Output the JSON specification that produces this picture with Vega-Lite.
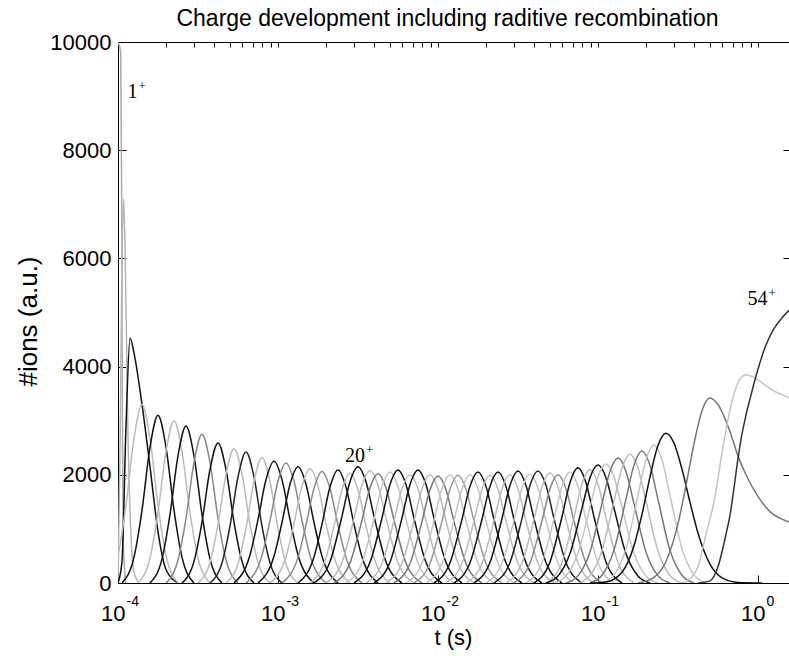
{
"$schema": "https://vega.github.io/schema/vega-lite/v6.json",
"width": 671, "height": 541,
"autosize": {"type": "none"},
"padding": {"left": 118, "top": 42, "right": 0, "bottom": 80},
"background": "white",
"config": {"view": {"stroke": null}, "font": "Liberation Sans"},
"title": {"text": "Charge development including raditive recombination", "font": "Liberation Sans", "fontSize": 23, "fontWeight": "normal", "color": "black", "frame": "group", "anchor": "middle", "baseline": "alphabetic", "offset": -18, "dx": -6},
"datasets": {
"labels": [{"lab":"1","t":1.324e-4,"n":8965},{"lab":"20","t":3.499e-3,"n":2237},{"lab":"54","t":1.147,"n":5139}],
"curves": [
{"q":1,"t":1.0e-4,"n":10000},{"q":1,"t":1.04e-4,"n":9800},{"q":1,"t":1.055e-4,"n":7000},{"q":1,"t":1.065e-4,"n":3000},{"q":1,"t":1.08e-4,"n":700},{"q":1,"t":1.12e-4,"n":0},
{"q":2,"t":1.0e-4,"n":0},{"q":2,"t":1.03e-4,"n":2500},{"q":2,"t":1.06e-4,"n":6000},{"q":2,"t":1.085e-4,"n":7100},{"q":2,"t":1.11e-4,"n":6000},{"q":2,"t":1.15e-4,"n":3000},{"q":2,"t":1.2e-4,"n":1000},{"q":2,"t":1.26e-4,"n":200},{"q":2,"t":1.35e-4,"n":0},
{"q":3,"t":1.0e-4,"n":0},{"q":3,"t":1.059e-4,"n":400},{"q":3,"t":1.122e-4,"n":2900},{"q":3,"t":1.189e-4,"n":4530},{"q":3,"t":1.259e-4,"n":4250},{"q":3,"t":1.413e-4,"n":3300},{"q":3,"t":1.585e-4,"n":2150},{"q":3,"t":1.778e-4,"n":950},{"q":3,"t":1.995e-4,"n":250},{"q":3,"t":2.371e-4,"n":0},
{"q":4,"t":8.414e-5,"n":0},{"q":4,"t":1.0e-4,"n":508},{"q":4,"t":1.122e-4,"n":1436},{"q":4,"t":1.259e-4,"n":2673},{"q":4,"t":1.413e-4,"n":3300},{"q":4,"t":1.585e-4,"n":2673},{"q":4,"t":1.778e-4,"n":1436},{"q":4,"t":1.995e-4,"n":508},{"q":4,"t":2.371e-4,"n":0},
{"q":5,"t":1.059e-4,"n":0},{"q":5,"t":1.259e-4,"n":477},{"q":5,"t":1.413e-4,"n":1349},{"q":5,"t":1.585e-4,"n":2511},{"q":5,"t":1.778e-4,"n":3100},{"q":5,"t":1.995e-4,"n":2511},{"q":5,"t":2.239e-4,"n":1349},{"q":5,"t":2.512e-4,"n":477},{"q":5,"t":2.985e-4,"n":0},
{"q":6,"t":1.334e-4,"n":0},{"q":6,"t":1.585e-4,"n":462},{"q":6,"t":1.778e-4,"n":1305},{"q":6,"t":1.995e-4,"n":2430},{"q":6,"t":2.239e-4,"n":3000},{"q":6,"t":2.512e-4,"n":2430},{"q":6,"t":2.818e-4,"n":1305},{"q":6,"t":3.162e-4,"n":462},{"q":6,"t":3.758e-4,"n":0},
{"q":7,"t":1.585e-4,"n":0},{"q":7,"t":1.884e-4,"n":447},{"q":7,"t":2.113e-4,"n":1262},{"q":7,"t":2.371e-4,"n":2349},{"q":7,"t":2.661e-4,"n":2900},{"q":7,"t":2.985e-4,"n":2349},{"q":7,"t":3.350e-4,"n":1262},{"q":7,"t":3.758e-4,"n":447},{"q":7,"t":4.467e-4,"n":0},
{"q":8,"t":1.995e-4,"n":0},{"q":8,"t":2.371e-4,"n":424},{"q":8,"t":2.661e-4,"n":1196},{"q":8,"t":2.985e-4,"n":2228},{"q":8,"t":3.350e-4,"n":2750},{"q":8,"t":3.758e-4,"n":2228},{"q":8,"t":4.217e-4,"n":1196},{"q":8,"t":4.732e-4,"n":424},{"q":8,"t":5.623e-4,"n":0},
{"q":9,"t":2.512e-4,"n":0},{"q":9,"t":2.985e-4,"n":399},{"q":9,"t":3.350e-4,"n":1127},{"q":9,"t":3.758e-4,"n":2098},{"q":9,"t":4.217e-4,"n":2590},{"q":9,"t":4.732e-4,"n":2098},{"q":9,"t":5.309e-4,"n":1127},{"q":9,"t":5.957e-4,"n":399},{"q":9,"t":7.079e-4,"n":0},
{"q":10,"t":3.162e-4,"n":0},{"q":10,"t":3.758e-4,"n":382},{"q":10,"t":4.217e-4,"n":1079},{"q":10,"t":4.732e-4,"n":2009},{"q":10,"t":5.309e-4,"n":2480},{"q":10,"t":5.957e-4,"n":2009},{"q":10,"t":6.683e-4,"n":1079},{"q":10,"t":7.499e-4,"n":382},{"q":10,"t":8.913e-4,"n":0},
{"q":11,"t":3.758e-4,"n":0},{"q":11,"t":4.467e-4,"n":373},{"q":11,"t":5.012e-4,"n":1053},{"q":11,"t":5.623e-4,"n":1960},{"q":11,"t":6.310e-4,"n":2420},{"q":11,"t":7.079e-4,"n":1960},{"q":11,"t":7.943e-4,"n":1053},{"q":11,"t":8.913e-4,"n":373},{"q":11,"t":1.059e-3,"n":0},
{"q":12,"t":4.732e-4,"n":0},{"q":12,"t":5.623e-4,"n":357},{"q":12,"t":6.310e-4,"n":1009},{"q":12,"t":7.079e-4,"n":1879},{"q":12,"t":7.943e-4,"n":2320},{"q":12,"t":8.913e-4,"n":1879},{"q":12,"t":1.0e-3,"n":1009},{"q":12,"t":1.122e-3,"n":357},{"q":12,"t":1.334e-3,"n":0},
{"q":13,"t":5.309e-4,"n":0},{"q":13,"t":6.683e-4,"n":518},{"q":13,"t":7.499e-4,"n":1170},{"q":13,"t":8.414e-4,"n":1910},{"q":13,"t":9.441e-4,"n":2250},{"q":13,"t":1.059e-3,"n":1910},{"q":13,"t":1.189e-3,"n":1170},{"q":13,"t":1.334e-3,"n":518},{"q":13,"t":1.679e-3,"n":0},
{"q":14,"t":6.310e-4,"n":0},{"q":14,"t":7.943e-4,"n":511},{"q":14,"t":8.913e-4,"n":1154},{"q":14,"t":1.0e-3,"n":1885},{"q":14,"t":1.122e-3,"n":2220},{"q":14,"t":1.259e-3,"n":1885},{"q":14,"t":1.413e-3,"n":1154},{"q":14,"t":1.585e-3,"n":511},{"q":14,"t":1.995e-3,"n":0},
{"q":15,"t":7.499e-4,"n":0},{"q":15,"t":9.441e-4,"n":495},{"q":15,"t":1.059e-3,"n":1118},{"q":15,"t":1.189e-3,"n":1825},{"q":15,"t":1.334e-3,"n":2150},{"q":15,"t":1.496e-3,"n":1825},{"q":15,"t":1.679e-3,"n":1118},{"q":15,"t":1.884e-3,"n":495},{"q":15,"t":2.371e-3,"n":0},
{"q":16,"t":8.913e-4,"n":0},{"q":16,"t":1.122e-3,"n":485},{"q":16,"t":1.259e-3,"n":1097},{"q":16,"t":1.413e-3,"n":1791},{"q":16,"t":1.585e-3,"n":2110},{"q":16,"t":1.778e-3,"n":1791},{"q":16,"t":1.995e-3,"n":1097},{"q":16,"t":2.239e-3,"n":485},{"q":16,"t":2.818e-3,"n":0},
{"q":17,"t":1.059e-3,"n":0},{"q":17,"t":1.334e-3,"n":474},{"q":17,"t":1.496e-3,"n":1071},{"q":17,"t":1.679e-3,"n":1749},{"q":17,"t":1.884e-3,"n":2060},{"q":17,"t":2.113e-3,"n":1749},{"q":17,"t":2.371e-3,"n":1071},{"q":17,"t":2.661e-3,"n":474},{"q":17,"t":3.350e-3,"n":0},
{"q":18,"t":1.334e-3,"n":0},{"q":18,"t":1.679e-3,"n":481},{"q":18,"t":1.884e-3,"n":1087},{"q":18,"t":2.113e-3,"n":1774},{"q":18,"t":2.371e-3,"n":2090},{"q":18,"t":2.661e-3,"n":1774},{"q":18,"t":2.985e-3,"n":1087},{"q":18,"t":3.350e-3,"n":481},{"q":18,"t":4.217e-3,"n":0},
{"q":19,"t":1.585e-3,"n":0},{"q":19,"t":1.995e-3,"n":467},{"q":19,"t":2.239e-3,"n":1056},{"q":19,"t":2.512e-3,"n":1723},{"q":19,"t":2.818e-3,"n":2030},{"q":19,"t":3.162e-3,"n":1723},{"q":19,"t":3.548e-3,"n":1056},{"q":19,"t":3.981e-3,"n":467},{"q":19,"t":5.012e-3,"n":0},
{"q":20,"t":1.679e-3,"n":0},{"q":20,"t":2.113e-3,"n":393},{"q":20,"t":2.512e-3,"n":1236},{"q":20,"t":2.818e-3,"n":1873},{"q":20,"t":3.162e-3,"n":2150},{"q":20,"t":3.548e-3,"n":1873},{"q":20,"t":3.981e-3,"n":1236},{"q":20,"t":4.732e-3,"n":393},{"q":20,"t":5.957e-3,"n":0},
{"q":21,"t":1.995e-3,"n":0},{"q":21,"t":2.512e-3,"n":381},{"q":21,"t":2.985e-3,"n":1196},{"q":21,"t":3.350e-3,"n":1812},{"q":21,"t":3.758e-3,"n":2080},{"q":21,"t":4.217e-3,"n":1812},{"q":21,"t":4.732e-3,"n":1196},{"q":21,"t":5.623e-3,"n":381},{"q":21,"t":7.079e-3,"n":0},
{"q":22,"t":2.239e-3,"n":0},{"q":22,"t":2.818e-3,"n":370},{"q":22,"t":3.350e-3,"n":1162},{"q":22,"t":3.758e-3,"n":1759},{"q":22,"t":4.217e-3,"n":2020},{"q":22,"t":4.732e-3,"n":1759},{"q":22,"t":5.309e-3,"n":1162},{"q":22,"t":6.310e-3,"n":370},{"q":22,"t":7.943e-3,"n":0},
{"q":23,"t":2.661e-3,"n":0},{"q":23,"t":3.350e-3,"n":375},{"q":23,"t":3.981e-3,"n":1179},{"q":23,"t":4.467e-3,"n":1786},{"q":23,"t":5.012e-3,"n":2050},{"q":23,"t":5.623e-3,"n":1786},{"q":23,"t":6.310e-3,"n":1179},{"q":23,"t":7.499e-3,"n":375},{"q":23,"t":9.441e-3,"n":0},
{"q":24,"t":2.985e-3,"n":0},{"q":24,"t":3.758e-3,"n":382},{"q":24,"t":4.467e-3,"n":1202},{"q":24,"t":5.012e-3,"n":1820},{"q":24,"t":5.623e-3,"n":2090},{"q":24,"t":6.310e-3,"n":1820},{"q":24,"t":7.079e-3,"n":1202},{"q":24,"t":8.414e-3,"n":382},{"q":24,"t":1.059e-2,"n":0},
{"q":25,"t":3.548e-3,"n":0},{"q":25,"t":4.467e-3,"n":366},{"q":25,"t":5.309e-3,"n":1150},{"q":25,"t":5.957e-3,"n":1742},{"q":25,"t":6.683e-3,"n":2000},{"q":25,"t":7.499e-3,"n":1742},{"q":25,"t":8.414e-3,"n":1150},{"q":25,"t":1.0e-2,"n":366},{"q":25,"t":1.259e-2,"n":0},
{"q":26,"t":3.981e-3,"n":0},{"q":26,"t":5.012e-3,"n":382},{"q":26,"t":5.957e-3,"n":1202},{"q":26,"t":6.683e-3,"n":1820},{"q":26,"t":7.499e-3,"n":2090},{"q":26,"t":8.414e-3,"n":1820},{"q":26,"t":9.441e-3,"n":1202},{"q":26,"t":1.122e-2,"n":382},{"q":26,"t":1.413e-2,"n":0},
{"q":27,"t":4.732e-3,"n":0},{"q":27,"t":5.957e-3,"n":366},{"q":27,"t":7.079e-3,"n":1150},{"q":27,"t":7.943e-3,"n":1742},{"q":27,"t":8.913e-3,"n":2000},{"q":27,"t":1.0e-2,"n":1742},{"q":27,"t":1.122e-2,"n":1150},{"q":27,"t":1.334e-2,"n":366},{"q":27,"t":1.679e-2,"n":0},
{"q":28,"t":5.309e-3,"n":0},{"q":28,"t":6.683e-3,"n":362},{"q":28,"t":7.943e-3,"n":1139},{"q":28,"t":8.913e-3,"n":1725},{"q":28,"t":1.0e-2,"n":1980},{"q":28,"t":1.122e-2,"n":1725},{"q":28,"t":1.259e-2,"n":1139},{"q":28,"t":1.496e-2,"n":362},{"q":28,"t":1.884e-2,"n":0},
{"q":29,"t":6.310e-3,"n":0},{"q":29,"t":7.943e-3,"n":366},{"q":29,"t":9.441e-3,"n":1150},{"q":29,"t":1.059e-2,"n":1742},{"q":29,"t":1.189e-2,"n":2000},{"q":29,"t":1.334e-2,"n":1742},{"q":29,"t":1.496e-2,"n":1150},{"q":29,"t":1.778e-2,"n":366},{"q":29,"t":2.239e-2,"n":0},
{"q":30,"t":7.079e-3,"n":0},{"q":30,"t":8.913e-3,"n":364},{"q":30,"t":1.059e-2,"n":1144},{"q":30,"t":1.189e-2,"n":1733},{"q":30,"t":1.334e-2,"n":1990},{"q":30,"t":1.496e-2,"n":1733},{"q":30,"t":1.679e-2,"n":1144},{"q":30,"t":1.995e-2,"n":364},{"q":30,"t":2.512e-2,"n":0},
{"q":31,"t":8.414e-3,"n":0},{"q":31,"t":1.059e-2,"n":366},{"q":31,"t":1.259e-2,"n":1150},{"q":31,"t":1.413e-2,"n":1742},{"q":31,"t":1.585e-2,"n":2000},{"q":31,"t":1.778e-2,"n":1742},{"q":31,"t":1.995e-2,"n":1150},{"q":31,"t":2.371e-2,"n":366},{"q":31,"t":2.985e-2,"n":0},
{"q":32,"t":9.441e-3,"n":0},{"q":32,"t":1.189e-2,"n":375},{"q":32,"t":1.413e-2,"n":1179},{"q":32,"t":1.585e-2,"n":1786},{"q":32,"t":1.778e-2,"n":2050},{"q":32,"t":1.995e-2,"n":1786},{"q":32,"t":2.239e-2,"n":1179},{"q":32,"t":2.661e-2,"n":375},{"q":32,"t":3.350e-2,"n":0},
{"q":33,"t":1.122e-2,"n":0},{"q":33,"t":1.413e-2,"n":364},{"q":33,"t":1.679e-2,"n":1144},{"q":33,"t":1.884e-2,"n":1733},{"q":33,"t":2.113e-2,"n":1990},{"q":33,"t":2.371e-2,"n":1733},{"q":33,"t":2.661e-2,"n":1144},{"q":33,"t":3.162e-2,"n":364},{"q":33,"t":3.981e-2,"n":0},
{"q":34,"t":1.259e-2,"n":0},{"q":34,"t":1.585e-2,"n":375},{"q":34,"t":1.884e-2,"n":1179},{"q":34,"t":2.113e-2,"n":1786},{"q":34,"t":2.371e-2,"n":2050},{"q":34,"t":2.661e-2,"n":1786},{"q":34,"t":2.985e-2,"n":1179},{"q":34,"t":3.548e-2,"n":375},{"q":34,"t":4.467e-2,"n":0},
{"q":35,"t":1.496e-2,"n":0},{"q":35,"t":1.884e-2,"n":366},{"q":35,"t":2.239e-2,"n":1150},{"q":35,"t":2.512e-2,"n":1742},{"q":35,"t":2.818e-2,"n":2000},{"q":35,"t":3.162e-2,"n":1742},{"q":35,"t":3.548e-2,"n":1150},{"q":35,"t":4.217e-2,"n":366},{"q":35,"t":5.309e-2,"n":0},
{"q":36,"t":1.679e-2,"n":0},{"q":36,"t":2.113e-2,"n":379},{"q":36,"t":2.512e-2,"n":1190},{"q":36,"t":2.818e-2,"n":1803},{"q":36,"t":3.162e-2,"n":2070},{"q":36,"t":3.548e-2,"n":1803},{"q":36,"t":3.981e-2,"n":1190},{"q":36,"t":4.732e-2,"n":379},{"q":36,"t":5.957e-2,"n":0},
{"q":37,"t":1.995e-2,"n":0},{"q":37,"t":2.512e-2,"n":368},{"q":37,"t":2.985e-2,"n":1156},{"q":37,"t":3.350e-2,"n":1751},{"q":37,"t":3.758e-2,"n":2010},{"q":37,"t":4.217e-2,"n":1751},{"q":37,"t":4.732e-2,"n":1156},{"q":37,"t":5.623e-2,"n":368},{"q":37,"t":7.079e-2,"n":0},
{"q":38,"t":2.239e-2,"n":0},{"q":38,"t":2.818e-2,"n":379},{"q":38,"t":3.350e-2,"n":1190},{"q":38,"t":3.758e-2,"n":1803},{"q":38,"t":4.217e-2,"n":2070},{"q":38,"t":4.732e-2,"n":1803},{"q":38,"t":5.309e-2,"n":1190},{"q":38,"t":6.310e-2,"n":379},{"q":38,"t":7.943e-2,"n":0},
{"q":39,"t":2.661e-2,"n":0},{"q":39,"t":3.350e-2,"n":373},{"q":39,"t":3.981e-2,"n":1173},{"q":39,"t":4.467e-2,"n":1777},{"q":39,"t":5.012e-2,"n":2040},{"q":39,"t":5.623e-2,"n":1777},{"q":39,"t":6.310e-2,"n":1173},{"q":39,"t":7.499e-2,"n":373},{"q":39,"t":9.441e-2,"n":0},
{"q":40,"t":2.985e-2,"n":0},{"q":40,"t":3.758e-2,"n":366},{"q":40,"t":4.467e-2,"n":1150},{"q":40,"t":5.012e-2,"n":1742},{"q":40,"t":5.623e-2,"n":2000},{"q":40,"t":6.310e-2,"n":1742},{"q":40,"t":7.079e-2,"n":1150},{"q":40,"t":8.414e-2,"n":366},{"q":40,"t":1.059e-1,"n":0},
{"q":41,"t":3.548e-2,"n":0},{"q":41,"t":4.467e-2,"n":375},{"q":41,"t":5.309e-2,"n":1179},{"q":41,"t":5.957e-2,"n":1786},{"q":41,"t":6.683e-2,"n":2050},{"q":41,"t":7.499e-2,"n":1786},{"q":41,"t":8.414e-2,"n":1179},{"q":41,"t":1.0e-1,"n":375},{"q":41,"t":1.259e-1,"n":0},
{"q":42,"t":3.981e-2,"n":0},{"q":42,"t":5.012e-2,"n":390},{"q":42,"t":5.957e-2,"n":1225},{"q":42,"t":6.683e-2,"n":1855},{"q":42,"t":7.499e-2,"n":2130},{"q":42,"t":8.414e-2,"n":1855},{"q":42,"t":9.441e-2,"n":1225},{"q":42,"t":1.122e-1,"n":390},{"q":42,"t":1.413e-1,"n":0},
{"q":43,"t":4.732e-2,"n":0},{"q":43,"t":5.957e-2,"n":384},{"q":43,"t":7.079e-2,"n":1208},{"q":43,"t":7.943e-2,"n":1829},{"q":43,"t":8.913e-2,"n":2100},{"q":43,"t":1.0e-1,"n":1829},{"q":43,"t":1.122e-1,"n":1208},{"q":43,"t":1.334e-1,"n":384},{"q":43,"t":1.679e-1,"n":0},
{"q":44,"t":4.732e-2,"n":0},{"q":44,"t":5.623e-2,"n":129},{"q":44,"t":6.683e-2,"n":543},{"q":44,"t":7.943e-2,"n":1384},{"q":44,"t":8.913e-2,"n":1947},{"q":44,"t":1.0e-1,"n":2180},{"q":44,"t":1.122e-1,"n":1947},{"q":44,"t":1.259e-1,"n":1384},{"q":44,"t":1.496e-1,"n":543},{"q":44,"t":1.778e-1,"n":129},{"q":44,"t":2.113e-1,"n":0},
{"q":45,"t":5.309e-2,"n":0},{"q":45,"t":6.310e-2,"n":130},{"q":45,"t":7.499e-2,"n":548},{"q":45,"t":8.913e-2,"n":1397},{"q":45,"t":1.0e-1,"n":1965},{"q":45,"t":1.122e-1,"n":2200},{"q":45,"t":1.259e-1,"n":1965},{"q":45,"t":1.413e-1,"n":1397},{"q":45,"t":1.679e-1,"n":548},{"q":45,"t":1.995e-1,"n":130},{"q":45,"t":2.371e-1,"n":0},
{"q":46,"t":6.310e-2,"n":0},{"q":46,"t":7.499e-2,"n":136},{"q":46,"t":8.913e-2,"n":575},{"q":46,"t":1.059e-1,"n":1467},{"q":46,"t":1.189e-1,"n":2063},{"q":46,"t":1.334e-1,"n":2310},{"q":46,"t":1.496e-1,"n":2063},{"q":46,"t":1.679e-1,"n":1467},{"q":46,"t":1.995e-1,"n":575},{"q":46,"t":2.371e-1,"n":136},{"q":46,"t":2.818e-1,"n":0},
{"q":47,"t":7.499e-2,"n":0},{"q":47,"t":8.913e-2,"n":140},{"q":47,"t":1.059e-1,"n":593},{"q":47,"t":1.259e-1,"n":1511},{"q":47,"t":1.413e-1,"n":2125},{"q":47,"t":1.585e-1,"n":2380},{"q":47,"t":1.778e-1,"n":2125},{"q":47,"t":1.995e-1,"n":1511},{"q":47,"t":2.371e-1,"n":593},{"q":47,"t":2.818e-1,"n":140},{"q":47,"t":3.350e-1,"n":0},
{"q":48,"t":8.913e-2,"n":0},{"q":48,"t":1.059e-1,"n":144},{"q":48,"t":1.259e-1,"n":608},{"q":48,"t":1.496e-1,"n":1549},{"q":48,"t":1.679e-1,"n":2179},{"q":48,"t":1.884e-1,"n":2440},{"q":48,"t":2.113e-1,"n":2179},{"q":48,"t":2.371e-1,"n":1549},{"q":48,"t":2.818e-1,"n":608},{"q":48,"t":3.350e-1,"n":144},{"q":48,"t":3.981e-1,"n":0},
{"q":49,"t":1.059e-1,"n":0},{"q":49,"t":1.259e-1,"n":150},{"q":49,"t":1.496e-1,"n":635},{"q":49,"t":1.778e-1,"n":1619},{"q":49,"t":1.995e-1,"n":2277},{"q":49,"t":2.239e-1,"n":2550},{"q":49,"t":2.512e-1,"n":2277},{"q":49,"t":2.818e-1,"n":1619},{"q":49,"t":3.350e-1,"n":635},{"q":49,"t":3.981e-1,"n":150},{"q":49,"t":4.732e-1,"n":0},
{"q":50,"t":8.913e-2,"n":0},{"q":50,"t":1.122e-1,"n":20},{"q":50,"t":1.413e-1,"n":200},{"q":50,"t":1.679e-1,"n":690},{"q":50,"t":1.884e-1,"n":1268},{"q":50,"t":2.113e-1,"n":1958},{"q":50,"t":2.371e-1,"n":2540},{"q":50,"t":2.661e-1,"n":2770},{"q":50,"t":2.985e-1,"n":2587},{"q":50,"t":3.350e-1,"n":2105},{"q":50,"t":3.758e-1,"n":1494},{"q":50,"t":4.217e-1,"n":925},{"q":50,"t":5.012e-1,"n":348},{"q":50,"t":5.957e-1,"n":96},{"q":50,"t":7.499e-1,"n":10},{"q":50,"t":1.059,"n":0},
{"q":51,"t":1.778e-1,"n":0},{"q":51,"t":2.239e-1,"n":105},{"q":51,"t":2.661e-1,"n":397},{"q":51,"t":3.162e-1,"n":1094},{"q":51,"t":3.548e-1,"n":1802},{"q":51,"t":3.981e-1,"n":2572},{"q":51,"t":4.467e-1,"n":3184},{"q":51,"t":5.012e-1,"n":3420},{"q":51,"t":5.623e-1,"n":3300},{"q":51,"t":6.683e-1,"n":2800},{"q":51,"t":7.499e-1,"n":2350},{"q":51,"t":8.414e-1,"n":2000},{"q":51,"t":1.0,"n":1600},{"q":51,"t":1.189,"n":1320},{"q":51,"t":1.413,"n":1180},{"q":51,"t":1.585,"n":1120},{"q":51,"t":1.995,"n":1050},
{"q":52,"t":3.350e-1,"n":0},{"q":52,"t":3.758e-1,"n":80},{"q":52,"t":4.217e-1,"n":300},{"q":52,"t":4.732e-1,"n":900},{"q":52,"t":5.309e-1,"n":1500},{"q":52,"t":5.957e-1,"n":2400},{"q":52,"t":6.683e-1,"n":3200},{"q":52,"t":7.499e-1,"n":3700},{"q":52,"t":8.414e-1,"n":3850},{"q":52,"t":9.441e-1,"n":3800},{"q":52,"t":1.059,"n":3700},{"q":52,"t":1.259,"n":3550},{"q":52,"t":1.585,"n":3420},{"q":52,"t":1.995,"n":3300},
{"q":53,"t":4.217e-1,"n":0},{"q":53,"t":5.012e-1,"n":40},{"q":53,"t":5.623e-1,"n":300},{"q":53,"t":6.310e-1,"n":900},{"q":53,"t":6.683e-1,"n":1250},{"q":53,"t":7.079e-1,"n":1750},{"q":53,"t":7.499e-1,"n":2300},{"q":53,"t":7.943e-1,"n":2750},{"q":53,"t":8.414e-1,"n":3100},{"q":53,"t":8.913e-1,"n":3400},{"q":53,"t":1.0,"n":3950},{"q":53,"t":1.122,"n":4400},{"q":53,"t":1.259,"n":4700},{"q":53,"t":1.413,"n":4900},{"q":53,"t":1.585,"n":5050},{"q":53,"t":1.995,"n":5150},{"q":53,"t":2.512,"n":5120}
]},
"layer": [
{"data": {"name": "curves"},
 "mark": {"type": "line", "interpolate": "monotone", "clip": true, "strokeWidth": 1.5},
 "encoding": {
  "x": {"field": "t", "type": "quantitative", "scale": {"type": "log", "domain": [0.0001, 1.563], "nice": false},
        "axis": {"orient": "bottom", "values": [0.0001, 0.001, 0.01, 0.1, 1], "labelExpr": "'10'", "labelFont": "Liberation Sans", "labelFontSize": 22, "labelColor": "black", "labelAlign": "right", "labelBaseline": "middle", "labelPadding": 38, "labelOffset": 7, "tickSize": -8, "tickColor": "black", "domainColor": "black", "grid": false, "labelOverlap": false, "labelFlush": false, "title": "t (s)", "titleFont": "Liberation Sans", "titleFontSize": 22, "titleFontWeight": "normal", "titleColor": "black", "titleX": 335, "titleY": 54, "titleBaseline": "middle", "titleAlign": "center"}},
  "y": {"field": "n", "type": "quantitative", "scale": {"domain": [0, 10000], "nice": false},
        "axis": {"orient": "left", "values": [0, 2000, 4000, 6000, 8000, 10000], "format": "d", "tickSize": -8, "labelPadding": 15, "labelFont": "Liberation Sans", "labelFontSize": 22, "labelColor": "black", "labelAlign": "right", "labelBaseline": "middle", "labelFlush": false, "labelOverlap": false, "domainColor": "black", "tickColor": "black", "grid": false, "title": "#ions (a.u.)", "titleFont": "Liberation Sans", "titleFontSize": 26, "titleFontWeight": "normal", "titleColor": "black", "titleX": -90, "titleY": 279, "titleAngle": -90, "titleAlign": "center", "titleBaseline": "middle"}},
  "color": {"field": "q", "type": "nominal", "legend": null,
   "scale": {"domain": [1,2,3,4,5,6,7,8,9,10,11,12,13,14,15,16,17,18,19,20,21,22,23,24,25,26,27,28,29,30,31,32,33,34,35,36,37,38,39,40,41,42,43,44,45,46,47,48,49,50,51,52,53],
    "range": ["#aaaaaa","#b5b5b5","#111111","#bbbbbb","#111111","#bbbbbb","#111111","#888888","#111111","#bbbbbb","#222222","#bbbbbb","#111111","#888888","#111111","#bbbbbb","#888888","#111111","#bbbbbb","#111111","#bbbbbb","#777777","#c4c4c4","#111111","#bbbbbb","#111111","#bbbbbb","#777777","#c4c4c4","#999999","#c4c4c4","#111111","#bbbbbb","#111111","#bbbbbb","#111111","#c4c4c4","#222222","#bbbbbb","#888888","#c4c4c4","#111111","#bbbbbb","#111111","#c4c4c4","#777777","#bbbbbb","#777777","#c4c4c4","#111111","#777777","#c4c4c4","#333333"]}}
 }},
{"data": {"name": "labels"},
 "mark": {"type": "text", "font": "Liberation Serif", "fontSize": 20, "align": "right", "baseline": "alphabetic", "color": "black"},
 "encoding": {
  "x": {"field": "t", "type": "quantitative", "scale": {"type": "log", "domain": [0.0001, 1.563], "nice": false},
        "axis": {"orient": "top", "values": [0.0001,0.0002,0.0003,0.0004,0.0005,0.0006,0.0007,0.0008,0.0009,0.001,0.002,0.003,0.004,0.005,0.006,0.007,0.008,0.009,0.01,0.02,0.03,0.04,0.05,0.06,0.07,0.08,0.09,0.1,0.2,0.3,0.4,0.5,0.6,0.7,0.8,0.9,1], "labels": false, "tickSize": -5, "tickColor": "black", "domainColor": "black", "grid": false, "title": null}},
  "y": {"field": "n", "type": "quantitative", "scale": {"domain": [0, 10000], "nice": false},
        "axis": {"orient": "right", "values": [0, 2000, 4000, 6000, 8000, 10000], "labels": false, "tickSize": -6, "tickColor": "black", "domain": false, "grid": false, "title": null}},
  "text": {"field": "lab"}
 }},
{"data": {"name": "labels"},
 "mark": {"type": "text", "font": "Liberation Serif", "fontSize": 13, "align": "left", "baseline": "alphabetic", "dx": 1, "dy": -8, "text": "+", "color": "black"},
 "encoding": {
  "x": {"field": "t", "type": "quantitative", "scale": {"type": "log", "domain": [0.0001, 1.563], "nice": false},
        "axis": {"orient": "bottom", "values": [0.0001, 0.001, 0.01, 0.1, 1], "labelExpr": "'' + round(log(datum.value)/LN10)", "labelFont": "Liberation Sans", "labelFontSize": 14, "labelColor": "black", "labelAlign": "left", "labelBaseline": "middle", "labelPadding": 18, "labelOffset": 8, "ticks": false, "domain": false, "grid": false, "labelOverlap": false, "labelFlush": false, "title": null}},
  "y": {"field": "n", "type": "quantitative", "scale": {"domain": [0, 10000], "nice": false}, "axis": null}
 }}
],
"resolve": {"axis": {"x": "independent", "y": "independent"}}
}
